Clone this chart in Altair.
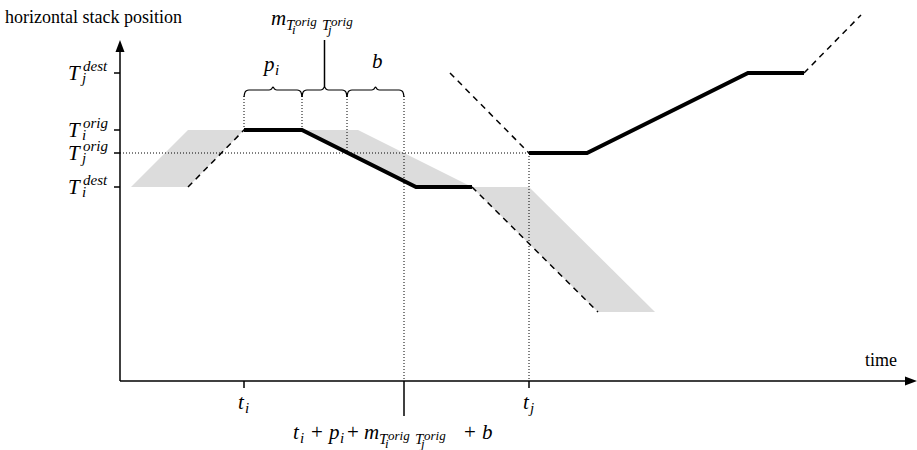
import altair as alt
import pandas as pd

# ---------------- diagram values (time -> x, stack position -> y, pixel-like units, y down) ----------------
axis_t0 = 120          # time origin (y axis)
axis_p0 = 381          # position origin (x axis)
t_i, t_ip, t_ipm, t_end, t_j = 244, 302, 347, 404, 529
p_Tj_dest, p_Ti_orig, p_Tj_orig, p_Ti_dest = 73, 130, 153, 187

# thick (solid) trajectories
solid_i_t = [244, 302, 416, 472]
solid_i_p = [130, 130, 187, 187]
solid_j_t = [529, 587, 748, 804]
solid_j_p = [153, 153, 73, 73]

# dashed trajectories
dash_i1_t, dash_i1_p = [188, 244], [187, 130]
dash_i2_t, dash_i2_p = [472, 598], [187, 312]
dash_j1_t, dash_j1_p = [450, 529], [73, 153]
dash_j2_t, dash_j2_p = [804, 861], [73, 15]

# grey bands (top row / bottom row: position, left time, right time)
band_p_top = [130, 130, 187]
band_l_top = [188, 302, 472]
band_r_top = [244, 358, 529]
band_p_bot = [187, 187, 312]
band_l_bot = [131, 416, 598]
band_r_bot = [188, 472, 655]

# braces
brace_start = [244, 302, 347]
brace_end = [302, 347, 404]
brace_level = 90

# y-axis tick positions and labels
ytick_pos = [p_Tj_dest, p_Ti_orig, p_Tj_orig, p_Ti_dest]
ytick_sup = ["dest", "orig", "orig", "dest"]
ytick_sub = ["j", "i", "j", "i"]

# ---------------- build tables ----------------
def path(name, ts, ps):
    return [{"g": name, "o": k, "x": a, "y": b} for k, (a, b) in enumerate(zip(ts, ps))]

solid = pd.DataFrame(path("i", solid_i_t, solid_i_p) + path("j", solid_j_t, solid_j_p))
dashed = pd.DataFrame(
    path("a", dash_i1_t, dash_i1_p) + path("b", dash_i2_t, dash_i2_p)
    + path("c", dash_j1_t, dash_j1_p) + path("d", dash_j2_t, dash_j2_p)
)
bands = pd.DataFrame(
    [{"g": k, "y": band_p_top[k], "x": band_l_top[k], "x2": band_r_top[k]} for k in range(3)]
    + [{"g": k, "y": band_p_bot[k], "x": band_l_bot[k], "x2": band_r_bot[k]} for k in range(3)]
)

dotted = pd.DataFrame([
    {"x": axis_t0, "x2": t_j, "y": p_Tj_orig, "y2": p_Tj_orig},
    {"x": t_i, "x2": t_i, "y": brace_level + 6, "y2": p_Ti_orig},
    {"x": t_ip, "x2": t_ip, "y": brace_level + 6, "y2": p_Ti_orig},
    {"x": t_ipm, "x2": t_ipm, "y": brace_level + 6, "y2": p_Tj_orig},
    {"x": t_end, "x2": t_end, "y": brace_level + 6, "y2": axis_p0},
    {"x": t_j, "x2": t_j, "y": p_Tj_orig, "y2": axis_p0},
])

axes_lines = pd.DataFrame([
    {"x": axis_t0, "x2": axis_t0, "y": axis_p0, "y2": 50},
    {"x": axis_t0, "x2": 907, "y": axis_p0, "y2": axis_p0},
] + [{"x": axis_t0 - 6, "x2": axis_t0, "y": p, "y2": p} for p in ytick_pos] + [
    {"x": t_i, "x2": t_i, "y": axis_p0, "y2": axis_p0 + 7},
    {"x": t_j, "x2": t_j, "y": axis_p0, "y2": axis_p0 + 7},
    {"x": t_end, "x2": t_end, "y": axis_p0, "y2": axis_p0 + 35},
    {"x": (t_ip + t_ipm) / 2, "x2": (t_ip + t_ipm) / 2, "y": 40, "y2": brace_level - 3},
])

# arrow heads as areas
arrow_v = pd.DataFrame([
    {"y": 40, "x": axis_t0, "x2": axis_t0},
    {"y": 52, "x": axis_t0 - 4.5, "x2": axis_t0 + 4.5},
])
arrow_h = pd.DataFrame([
    {"x": 905, "y": axis_p0 - 4.5, "y2": axis_p0 + 4.5},
    {"x": 917, "y": axis_p0, "y2": axis_p0},
])

# curly braces
brace_rows = []
for k, (a, b) in enumerate(zip(brace_start, brace_end)):
    m = (a + b) / 2
    L = brace_level
    pts = [(a, L + 7), (a + 0.6, L + 3.5), (a + 2, L + 1), (a + 5, L), (m - 4, L),
           (m - 1.5, L - 1), (m, L - 3), (m + 1.5, L - 1), (m + 4, L),
           (b - 5, L), (b - 2, L + 1), (b - 0.6, L + 3.5), (b, L + 7)]
    for o, (x, y) in enumerate(pts):
        brace_rows.append({"g": k, "o": o, "x": x, "y": y})
braces = pd.DataFrame(brace_rows)

# ---------------- text pieces ----------------
MAIN, SCR, SSCR = 21, 15, 13
italic_rows = []
upright_rows = []

def it(x, y, s, size):
    italic_rows.append({"x": x, "y": y, "t": s, "s": size})

def up(x, y, s, size):
    upright_rows.append({"x": x, "y": y, "t": s, "s": size})

up(5, 23, "horizontal stack position", 18)
up(865, 366, "time", 18)

for p, sp, sb in zip(ytick_pos, ytick_sup, ytick_sub):
    it(68, p + 7, "T", MAIN)
    it(83, p - 2, sp, SCR)
    it(82, p + 10, sb, SCR)

it(t_i - 6, 409, "t", MAIN); it(t_i + 1, 413, "i", SCR)
it(t_j - 6, 409, "t", MAIN); it(t_j + 1, 413, "j", SCR)

it(264, 71, "p", MAIN); it(275, 75, "i", SCR)
it(372, 68, "b", MAIN)

def m_label(x0, base):
    it(x0, base, "m", MAIN)
    it(x0 + 15, base + 5, "T", SCR)
    it(x0 + 24, base + 1, "orig", SSCR)
    it(x0 + 21, base + 9, "i", SSCR)
    it(x0 + 51, base + 5, "T", SCR)
    it(x0 + 60, base + 1, "orig", SSCR)
    it(x0 + 57, base + 9, "j", SSCR)

m_label(271, 25)

base = 439
it(293, base, "t", MAIN); it(300, base + 4, "i", SCR)
up(311, base, "+", MAIN)
it(329, base, "p", MAIN); it(340, base + 4, "i", SCR)
up(347, base, "+", MAIN)
m_label(364, base)
up(464, base, "+", MAIN)
it(482, base, "b", MAIN)

italic_df = pd.DataFrame(italic_rows)
upright_df = pd.DataFrame(upright_rows)

FONT = "'Liberation Serif', 'DejaVu Serif', serif"

# ---------------- chart ----------------
W, H = 917, 450
xs = alt.Scale(domain=[0, W], nice=False, zero=False)
ys = alt.Scale(domain=[0, H], nice=False, zero=False, reverse=True)
X = lambda f="x": alt.X(f"{f}:Q", scale=xs, axis=None)
Y = lambda f="y": alt.Y(f"{f}:Q", scale=ys, axis=None)

band_layer = alt.Chart(bands).mark_area(orient="horizontal", color="#dcdcdc", opacity=1).encode(
    y=Y(), x=alt.X("x:Q", scale=xs, axis=None, stack=None), x2="x2:Q", detail="g:N"
)
dotted_layer = alt.Chart(dotted).mark_rule(color="black", strokeWidth=1, strokeDash=[1, 2]).encode(
    x=X(), x2="x2:Q", y=Y(), y2="y2:Q"
)
axes_layer = alt.Chart(axes_lines).mark_rule(color="black", strokeWidth=1.5).encode(
    x=X(), x2="x2:Q", y=Y(), y2="y2:Q"
)
arrow_v_layer = alt.Chart(arrow_v).mark_area(orient="horizontal", color="black", opacity=1).encode(
    y=Y(), x=alt.X("x:Q", scale=xs, axis=None, stack=None), x2="x2:Q"
)
arrow_h_layer = alt.Chart(arrow_h).mark_area(orient="vertical", color="black", opacity=1).encode(
    x=X(), y=alt.Y("y:Q", scale=ys, axis=None, stack=None), y2="y2:Q"
)
dashed_layer = alt.Chart(dashed).mark_line(color="black", strokeWidth=1.5, strokeDash=[6, 5]).encode(
    x=X(), y=Y(), detail="g:N", order="o:Q"
)
solid_layer = alt.Chart(solid).mark_line(color="black", strokeWidth=4, strokeJoin="miter").encode(
    x=X(), y=Y(), detail="g:N", order="o:Q"
)
brace_layer = alt.Chart(braces).mark_line(color="black", strokeWidth=1.2, interpolate="monotone").encode(
    x=X(), y=Y(), detail="g:N", order="o:Q"
)
italic_layer = alt.Chart(italic_df).mark_text(
    font=FONT, fontStyle="italic", align="left", baseline="alphabetic", color="black"
).encode(x=X(), y=Y(), text="t:N", size=alt.Size("s:Q", scale=None))
upright_layer = alt.Chart(upright_df).mark_text(
    font=FONT, align="left", baseline="alphabetic", color="black"
).encode(x=X(), y=Y(), text="t:N", size=alt.Size("s:Q", scale=None))

chart = alt.layer(
    band_layer, dotted_layer, axes_layer, arrow_v_layer, arrow_h_layer,
    dashed_layer, solid_layer, brace_layer, italic_layer, upright_layer
).properties(
    width=W, height=H, padding=0, autosize=alt.AutoSizeParams(type="none"),
    background="white"
).configure_view(stroke=None)

chart.save("out.html", embed_options={"renderer": "svg", "actions": False})
